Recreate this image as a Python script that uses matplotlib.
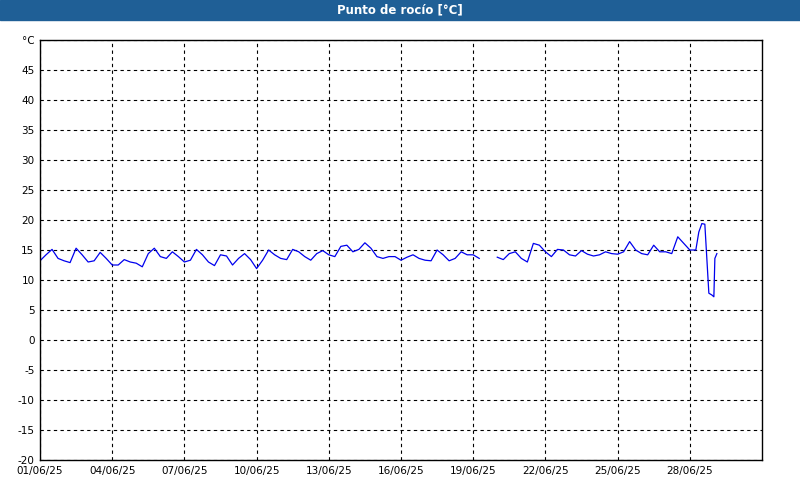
import numpy as np
import matplotlib.pyplot as plt

# dew point readings, 6-hourly from 01/06 00:00, then a few denser points at the end
values = [13.2, 14.2, 15.1, 13.6, 13.2, 12.9, 15.3, 14.2, 13.0, 13.2, 14.6, 13.6,
          12.5, 12.5, 13.4, 13.0, 12.8, 12.2, 14.4, 15.3, 13.9, 13.6, 14.7, 13.9,
          13.0, 13.3, 15.1, 14.2, 13.0, 12.4, 14.2, 14.0, 12.5, 13.6, 14.4, 13.4,
          11.9, 13.3, 15.0, 14.2, 13.6, 13.4, 15.1, 14.7, 13.9, 13.3, 14.4, 14.9,
          14.2, 13.9, 15.6, 15.8, 14.7, 15.1, 16.2, 15.3, 13.9, 13.6, 13.9, 13.9,
          13.3, 13.8,
          14.2, 13.6, 13.3, 13.2, 15.0, 14.2, 13.2, 13.6, 14.7, 14.2, 14.2, 13.6,
          np.nan, np.nan,
          13.8, 13.4, 14.4, 14.7, 13.6, 13.0, 16.1, 15.8, 14.7, 13.9, 15.1, 15.0,
          14.2, 14.0, 14.9, 14.3, 14.0, 14.2, 14.7, 14.4, 14.3, 14.7, 16.4, 15.0,
          14.4, 14.2, 15.8, 14.7, 14.7, 14.4, 17.2, 16.1, 15.0, 15.0]
tail_hours = [657, 660, 663, 667, 670, 672, 673, 675]
tail_values = [18.0, 19.4, 19.3, 7.8, 7.5, 7.2, 13.6, 14.4]

hours = list(np.arange(len(values)) * 6) + tail_hours
temps = values + tail_values
days = np.array(hours) / 24.0

tick_labels = ['01/06/25', '04/06/25', '07/06/25', '10/06/25', '13/06/25',
               '16/06/25', '19/06/25', '22/06/25', '25/06/25', '28/06/25']
y_ticks = list(range(-20, 51, 5))
y_labels = [str(v) for v in y_ticks[:-1]] + ['°C']

fig = plt.figure(figsize=(8, 5), dpi=100, facecolor='white')
fig.patches.append(plt.Rectangle((0, 0.96), 1, 0.04, transform=fig.transFigure,
                                 color='#1f5f96', zorder=0))
fig.text(0.5, 0.98, 'Punto de rocío [°C]', color='white', fontsize=8.5,
         fontweight='bold', ha='center', va='center')

ax = fig.add_axes([0.05, 0.08, 0.9025, 0.84])
ax.plot(days, temps, color='#0000ee', lw=0.9)
ax.set_xlim(0, 30)
ax.set_ylim(-20, 50)
ax.set_xticks(np.arange(0, 30, 3))
ax.set_xticklabels(tick_labels, fontsize=7.5)
ax.set_yticks(y_ticks)
ax.set_yticklabels(y_labels, fontsize=7.5)
ax.tick_params(length=0, pad=4)
ax.grid(True, color='black', linestyle=(0, (3, 3)), lw=0.8)
for s in ax.spines.values():
    s.set_color('black')
    s.set_linewidth(1)

plt.savefig('out.png', dpi=100)
